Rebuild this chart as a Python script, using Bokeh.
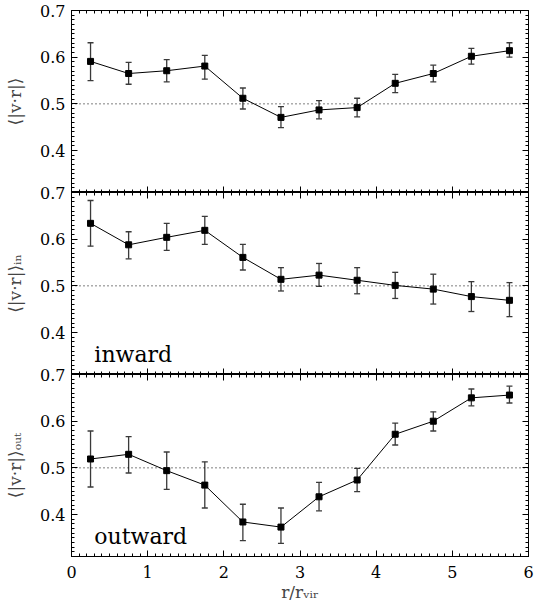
from bokeh.plotting import figure
from bokeh.layouts import column
from bokeh.models import (ColumnDataSource, Whisker, Span, Label, LinearAxis,
                          SingleIntervalTicker, Range1d, TeeHead)
from bokeh.embed import file_html
from bokeh.resources import INLINE

# ---- data ----
r_bins = [0.25, 0.75, 1.25, 1.75, 2.25, 2.75, 3.25, 3.75, 4.25, 4.75, 5.25, 5.75]

all_mean = [0.591, 0.565, 0.571, 0.581, 0.512, 0.471, 0.487, 0.492, 0.544, 0.565, 0.602, 0.614]
all_lo   = [0.550, 0.542, 0.547, 0.553, 0.489, 0.449, 0.468, 0.472, 0.524, 0.547, 0.585, 0.600]
all_hi   = [0.631, 0.589, 0.595, 0.604, 0.534, 0.494, 0.507, 0.512, 0.563, 0.583, 0.619, 0.631]

in_mean = [0.634, 0.588, 0.604, 0.619, 0.561, 0.514, 0.523, 0.512, 0.501, 0.493, 0.477, 0.469]
in_lo   = [0.585, 0.558, 0.576, 0.589, 0.534, 0.489, 0.499, 0.483, 0.473, 0.461, 0.445, 0.434]
in_hi   = [0.683, 0.616, 0.634, 0.649, 0.589, 0.539, 0.548, 0.539, 0.529, 0.525, 0.509, 0.507]

out_mean = [0.519, 0.529, 0.494, 0.463, 0.384, 0.373, 0.438, 0.474, 0.572, 0.600, 0.650, 0.656]
out_lo   = [0.459, 0.489, 0.454, 0.414, 0.344, 0.338, 0.408, 0.449, 0.549, 0.579, 0.633, 0.639]
out_hi   = [0.579, 0.567, 0.534, 0.513, 0.422, 0.414, 0.469, 0.499, 0.596, 0.620, 0.669, 0.675]

x_range = (0, 6)
y_range = (0.31, 0.7001)
ref_level = 0.5

FONT = "DejaVu Serif"
WIDTH = 536
LEFT = 71
RIGHT = 8
TOP = 10
FRAME_H = 182
BOTTOM = 49


def make_axis(interval, minor, show_labels):
    ax = LinearAxis(ticker=SingleIntervalTicker(interval=interval, num_minor_ticks=minor))
    ax.major_tick_in = 6
    ax.major_tick_out = 0
    ax.minor_tick_in = 3
    ax.minor_tick_out = 0
    ax.axis_line_color = "black"
    ax.major_tick_line_color = "black"
    ax.minor_tick_line_color = "black"
    if show_labels:
        ax.major_label_text_font = FONT
        ax.major_label_text_font_size = "16px"
        ax.major_label_text_color = "black"
    else:
        ax.major_label_text_font_size = "0px"
        ax.major_label_text_color = None
        ax.major_label_standoff = 0
    return ax


def panel(mean, lo, hi, ylabel, first, last, tag=None):
    bottom = BOTTOM if last else 0
    p = figure(width=WIDTH, height=TOP + FRAME_H + bottom,
               x_range=Range1d(*x_range), y_range=Range1d(*y_range),
               output_backend="svg", toolbar_location=None,
               x_axis_location=None, y_axis_location=None,
               min_border_left=LEFT, min_border_right=RIGHT,
               min_border_top=TOP, min_border_bottom=bottom)
    p.grid.visible = False
    p.outline_line_color = "black"
    p.outline_line_width = 1
    if not first:
        p.background_fill_alpha = 0
        p.border_fill_alpha = 0
        p.margin = (-TOP, 0, 0, 0)

    # axes on all four sides
    yl = make_axis(0.1, 10, True)
    yl.major_label_standoff = 6
    yl.axis_label = ylabel
    yl.axis_label_text_font = FONT
    yl.axis_label_text_font_size = "17px"
    yl.axis_label_text_font_style = "normal"
    yl.axis_label_standoff = 12
    p.add_layout(yl, "left")
    p.add_layout(make_axis(0.1, 10, False), "right")
    p.add_layout(make_axis(1, 10, False), "above")
    xb = make_axis(1, 10, last)
    if last:
        xb.major_label_standoff = 9
        xb.axis_label = "r/rᵥᵢᵣ"
        xb.axis_label_text_font = FONT
        xb.axis_label_text_font_size = "17px"
        xb.axis_label_text_font_style = "normal"
        xb.axis_label_standoff = 1
    p.add_layout(xb, "below")

    p.add_layout(Span(location=ref_level, dimension="width", line_color="black",
                      line_width=1, line_dash="1 3"))

    src = ColumnDataSource(dict(x=r_bins, y=mean, lo=lo, hi=hi))
    wcol = "#3a3a3a"
    p.add_layout(Whisker(source=src, base="x", upper="hi", lower="lo",
                         line_color=wcol, line_width=1.3,
                         upper_head=TeeHead(size=6, line_color=wcol, line_width=1.3),
                         lower_head=TeeHead(size=6, line_color=wcol, line_width=1.3)))
    p.line("x", "y", source=src, line_color="black", line_width=1)
    p.scatter("x", "y", source=src, marker="square", size=6,
              fill_color="black", line_color="black")

    if tag:
        p.add_layout(Label(x=0.3, y=0.352, text=tag, text_font=FONT,
                           text_font_size="22px", text_color="black",
                           text_baseline="alphabetic"))
    return p


p1 = panel(all_mean, all_lo, all_hi, "⟨|v·r|⟩", True, False)
p2 = panel(in_mean, in_lo, in_hi, "⟨|v·r|⟩ᵢₙ", False, False, "inward")
p3 = panel(out_mean, out_lo, out_hi, "⟨|v·r|⟩ₒᵤₜ", False, True, "outward")

layout = column(p1, p2, p3, spacing=0)
open("out.html", "w").write(file_html(layout, INLINE))
